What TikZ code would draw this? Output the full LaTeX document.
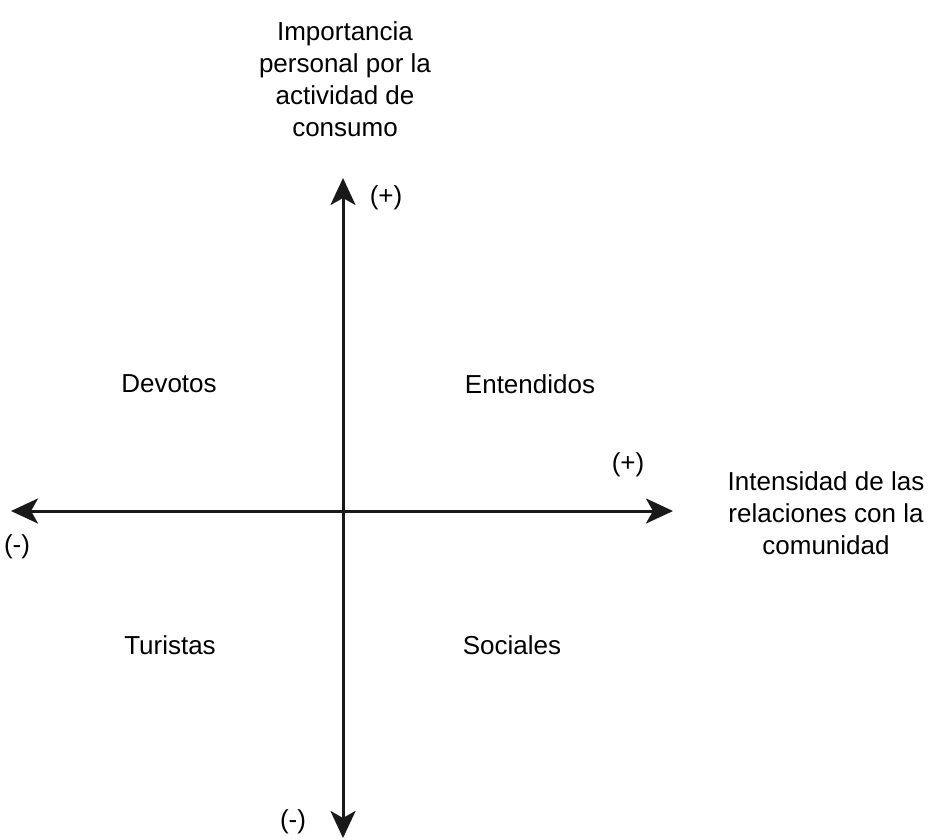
\documentclass[tikz,border=0pt]{standalone}
\usepackage{fontspec}
\setmainfont{Liberation Sans}
\usetikzlibrary{arrows.meta}
\begin{document}
\begin{tikzpicture}[x=1pt,y=-1pt,
  axis/.style={line width=3pt,draw=black!90,-{Stealth[length=27pt,width=25pt,inset=7pt]}},
  lbl/.style={font=\fontsize{26}{32}\selectfont,align=center,inner sep=0pt,text=black},
]
\useasboundingbox (0,0) rectangle (931,839);
\coordinate (c) at (343,511);
\coordinate (top) at (343,178);
\coordinate (bot) at (343,838);
\coordinate (left) at (11,511);
\coordinate (right) at (673,511);
\draw[axis] (c) -- (top);
\draw[axis] (c) -- (bot);
\draw[axis] (c) -- (left);
\draw[axis] (c) -- (right);
\node[lbl] (ytitle) at (345,79) {Importancia\\personal por la\\actividad de\\consumo};
\node[lbl] (xtitle) at (826,513) {Intensidad de las\\relaciones con la\\comunidad};
\node[lbl] (yplus) at (386,198) {(+)};
\node[lbl] (yminus) at (293,822) {(-)};
\node[lbl] (xminus) at (17,547) {(-)};
\node[lbl] (xplus) at (628,465) {(+)};
\node[lbl] (q2) at (169,384) {Devotos};
\node[lbl] (q1) at (530,384) {Entendidos};
\node[lbl] (q3) at (170,645) {Turistas};
\node[lbl] (q4) at (512,645) {Sociales};
\end{tikzpicture}
\end{document}
